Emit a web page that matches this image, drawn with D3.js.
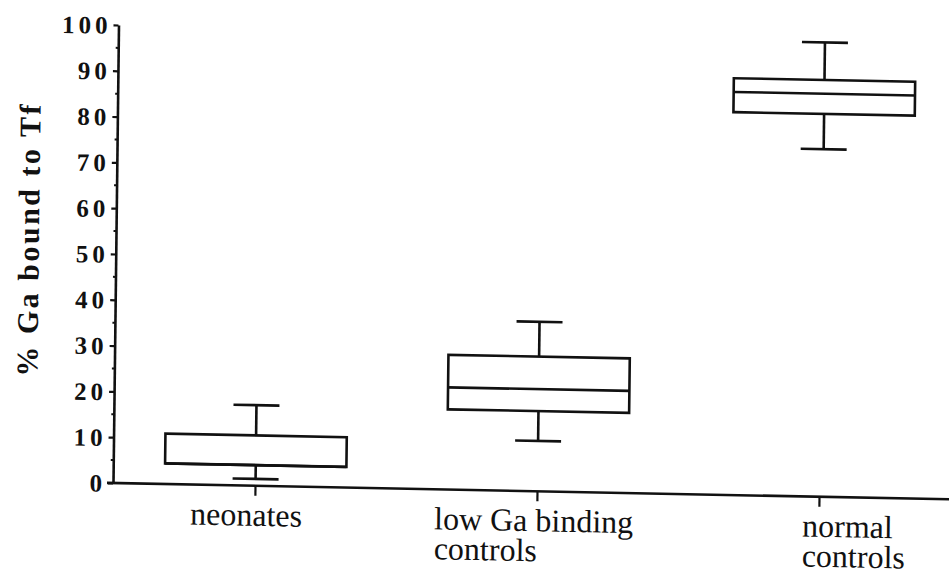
<!DOCTYPE html>
<html>
<head>
<meta charset="utf-8">
<script src="https://cdn.jsdelivr.net/npm/d3@7"></script>
<style>
  html, body { margin: 0; padding: 0; background: #fff; }
  svg { display: block; }
</style>
</head>
<body>
<svg id="chart" width="949" height="574"></svg>
<script>
// Groups and their label lines
const groups = ["neonates", "low Ga binding controls", "normal controls"];
const groupLabels = [["neonates"], ["low Ga binding", "controls"], ["normal", "controls"]];

// Box-plot statistics, % Ga bound to Tf
const whiskerLow  = [1.5, 11.0, 75.9];
const quartile1   = [4.5, 17.5, 83.6];
const medianVal   = [4.5, 22.3, 88.0];
const quartile3   = [11.0, 29.4, 91.0];
const whiskerHigh = [17.6, 37.0, 99.2];

const yTicks = [0, 10, 20, 30, 40, 50, 60, 70, 80, 90, 100];
const yMinorTicks = [5, 15, 25, 35, 45, 55, 65, 75, 85, 95];
const yTitle = "% Ga bound to Tf";

// Layout
const originX = 113, originY = 483;
const labelStart = [-65, -103, -17];   // label block start relative to its tick
const serif = "'Liberation Serif', 'Times New Roman', serif";

const svg = d3.select("#chart");

// the printed figure sits slightly askew on the page
const root = svg.append("g")
  .attr("transform",
    `translate(${originX},${originY}) matrix(1,0.0195,-0.012,1,0,0) translate(${-originX},${-originY})`);

const y = d3.scaleLinear().domain([0, 100]).range([originY, 25]);
const x = d3.scalePoint().domain(groups).range([114.5, 960.5]).padding(0.5);
const step = x.step();
const boxW = step * 0.643;
const capW = step * 0.163;

const ink = "#111";
const lw = 2.6;

// ---- y axis ----
const yAxis = d3.axisLeft(y)
  .tickValues(yTicks)
  .tickSize(5)
  .tickSizeOuter(0)
  .tickPadding(2)
  .tickFormat(d3.format("d"));

const gy = root.append("g")
  .attr("transform", `translate(${originX},0)`)
  .call(yAxis);
gy.select(".domain").attr("stroke", ink).attr("stroke-width", lw);
gy.selectAll(".tick line").attr("stroke", ink).attr("stroke-width", 2.2);
gy.selectAll(".tick text")
  .attr("fill", ink)
  .attr("dy", "0.34em")
  .style("font-family", serif)
  .style("font-weight", "bold")
  .style("font-size", "25px")
  .style("letter-spacing", "4px");

// minor ticks
gy.selectAll(".minor")
  .data(yMinorTicks)
  .join("line")
  .attr("class", "minor")
  .attr("x1", -2.5).attr("x2", 0)
  .attr("y1", d => y(d)).attr("y2", d => y(d))
  .attr("stroke", ink).attr("stroke-width", 2);

// ---- x axis ----
root.append("line")
  .attr("x1", 107).attr("x2", 990)
  .attr("y1", y(0)).attr("y2", y(0))
  .attr("stroke", ink).attr("stroke-width", lw);

root.selectAll(".xtick")
  .data(groups)
  .join("line")
  .attr("class", "xtick")
  .attr("x1", d => x(d)).attr("x2", d => x(d))
  .attr("y1", y(0)).attr("y2", y(0) + 10)
  .attr("stroke", ink).attr("stroke-width", 2.2);

// category labels (left-aligned blocks)
const lab = root.selectAll(".xlabel")
  .data(groups)
  .join("text")
  .attr("class", "xlabel")
  .attr("fill", ink)
  .style("font-family", serif)
  .style("font-size", "32px");
lab.each(function (d, i) {
  const t = d3.select(this);
  groupLabels[i].forEach((line, k) => {
    t.append("tspan")
      .attr("x", x(d) + labelStart[i])
      .attr("y", 523 + k * 30)
      .text(line);
  });
});

// y axis title
root.append("text")
  .attr("transform", `translate(36,241) rotate(-90)`)
  .attr("text-anchor", "middle")
  .attr("fill", ink)
  .style("font-family", serif)
  .style("font-weight", "bold")
  .style("font-size", "30px")
  .style("letter-spacing", "2.5px")
  .text(yTitle);

// ---- boxes ----
const stats = groups.map((g, i) => ({
  g, lo: whiskerLow[i], q1: quartile1[i], med: medianVal[i], q3: quartile3[i], hi: whiskerHigh[i]
}));

const box = root.selectAll(".box")
  .data(stats)
  .join("g")
  .attr("class", "box")
  .attr("fill", "none")
  .attr("stroke", ink)
  .attr("stroke-width", lw);

// whisker stems
box.append("line")
  .attr("x1", d => x(d.g)).attr("x2", d => x(d.g))
  .attr("y1", d => y(d.q3)).attr("y2", d => y(d.hi));
box.append("line")
  .attr("x1", d => x(d.g)).attr("x2", d => x(d.g))
  .attr("y1", d => y(d.q1)).attr("y2", d => y(d.lo));
// caps
box.append("line")
  .attr("x1", d => x(d.g) - capW / 2).attr("x2", d => x(d.g) + capW / 2)
  .attr("y1", d => y(d.hi)).attr("y2", d => y(d.hi));
box.append("line")
  .attr("x1", d => x(d.g) - capW / 2).attr("x2", d => x(d.g) + capW / 2)
  .attr("y1", d => y(d.lo)).attr("y2", d => y(d.lo));
// box
box.append("rect")
  .attr("x", d => x(d.g) - boxW / 2)
  .attr("width", boxW)
  .attr("y", d => y(d.q3))
  .attr("height", d => y(d.q1) - y(d.q3))
  .attr("fill", "#fff");
// median
box.append("line")
  .attr("x1", d => x(d.g) - boxW / 2).attr("x2", d => x(d.g) + boxW / 2)
  .attr("y1", d => y(d.med)).attr("y2", d => y(d.med));
</script>
</body>
</html>
